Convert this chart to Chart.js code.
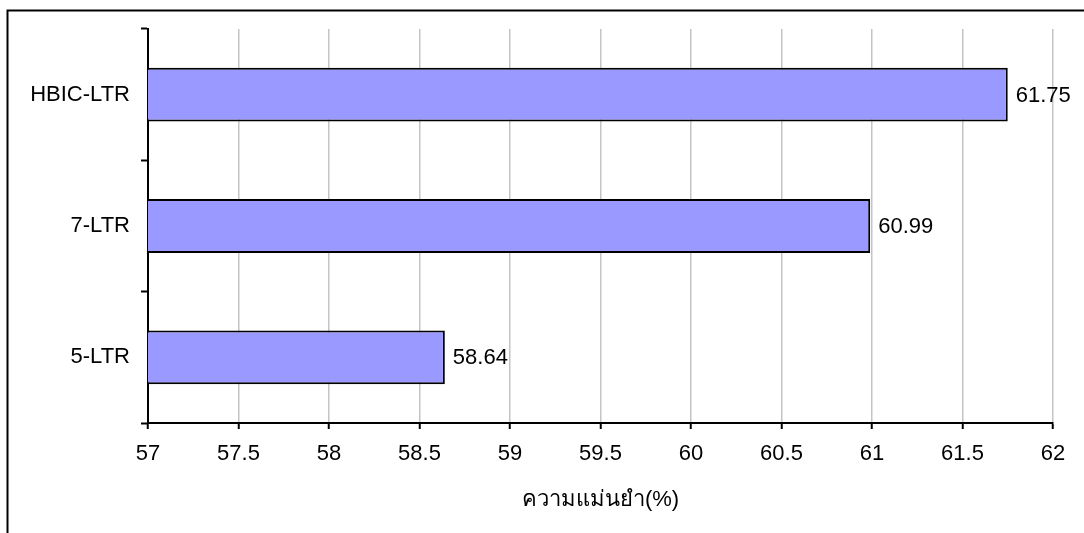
<!DOCTYPE html>
<html>
<head>
<meta charset="utf-8">
<script src="https://cdn.jsdelivr.net/npm/chart.js@4/dist/chart.umd.min.js"></script>
<style>
  body { margin: 0; background: #fff; }
  canvas { display: block; }
</style>
</head>
<body>
<canvas id="grafico" width="1084" height="533"></canvas>
<script>
// datos de la grafica
var metodos = ['HBIC-LTR', '7-LTR', '5-LTR'];
var exactitud = [61.75, 60.99, 58.64];
var escalaMin = 57;
var escalaMax = 62;
var paso = 0.5;
var tituloEje = 'ความแม่นยำ(%)';

var fuente = "'Liberation Sans', Arial, sans-serif";

// marco exterior
var marco = {
	id: 'marco',
	afterDraw: function(chart){
		var ctx = chart.ctx;
		ctx.save();
		ctx.strokeStyle = '#000';
		ctx.lineWidth = 2;
		ctx.strokeRect(7.5, 10.5, 1200, 700);
		ctx.restore();
	}
};

// valor al final de cada barra
var valores = {
	id: 'valores',
	afterDatasetsDraw: function(chart){
		var ctx = chart.ctx;
		var meta = chart.getDatasetMeta(0);
		ctx.save();
		ctx.font = '22px ' + fuente;
		ctx.fillStyle = '#000';
		ctx.textAlign = 'left';
		ctx.textBaseline = 'middle';
		meta.data.forEach(function(bar, i){
			ctx.fillText(String(exactitud[i]), bar.x + 8, bar.y + 1);
		});
		ctx.restore();
	}
};

var ctx = document.getElementById('grafico').getContext('2d');
window.myBar = new Chart(ctx, {
	type: 'bar',
	data: {
		labels: metodos,
		datasets: [{
			data: exactitud,
			backgroundColor: '#9999FF',
			borderColor: '#000',
			borderWidth: 2,
			borderSkipped: false,
			categoryPercentage: 1,
			barPercentage: 0.41
		}]
	},
	options: {
		indexAxis: 'y',
		responsive: false,
		animation: false,
		layout: { padding: { left: 0, top: 29, right: 31, bottom: 0 } },
		plugins: {
			legend: { display: false },
			tooltip: { enabled: false }
		},
		scales: {
			x: {
				min: escalaMin,
				max: escalaMax,
				afterFit: function(axis){ axis.height = 110; },
				ticks: {
					stepSize: paso,
					color: '#000',
					font: { family: fuente, size: 22 },
					padding: 12,
					maxRotation: 0,
					callback: function(v){ return String(v); }
				},
				grid: {
					color: '#c4c4c4',
					lineWidth: 1.5,
					tickColor: '#000',
					tickLength: 6,
					tickWidth: 2
				},
				border: { display: true, color: '#000', width: 2 },
				title: {
					display: true,
					text: tituloEje,
					color: '#000',
					font: { family: fuente, size: 22 },
					padding: { top: 0, bottom: 20 }
				}
			},
			y: {
				afterFit: function(axis){ axis.width = 148; },
				ticks: {
					color: '#000',
					font: { family: fuente, size: 22 },
					padding: 11
				},
				grid: {
					drawOnChartArea: false,
					drawTicks: true,
					tickColor: '#000',
					tickLength: 7,
					tickWidth: 2,
					offset: true
				},
				border: { display: true, color: '#000', width: 2 }
			}
		}
	},
	plugins: [marco, valores]
});
</script>
</body>
</html>
